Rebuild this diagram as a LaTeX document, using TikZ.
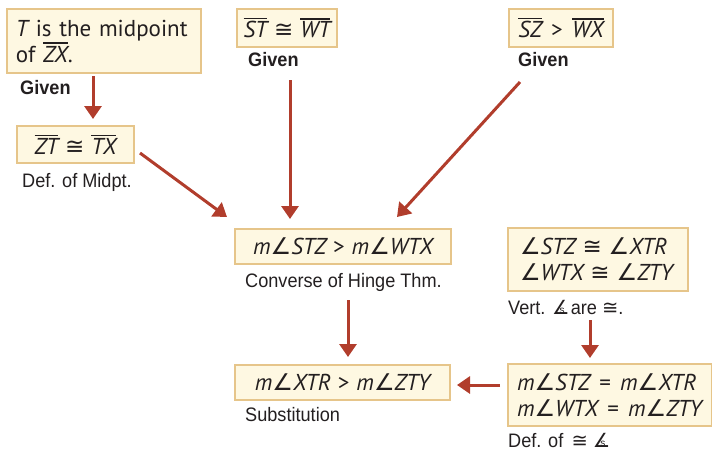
\documentclass[tikz,border=0pt]{standalone}
\usepackage{fontspec}
\setmainfont{Liberation Sans}
\newfontfamily\labfont{Liberation Sans}[FakeStretch=0.93]
\newfontfamily\smallfont{Liberation Sans}
\newfontfamily\boxfont{PT Sans}
\newfontfamily\symfont{DejaVu Sans}
\usetikzlibrary{arrows.meta}
\definecolor{boxfill}{HTML}{FEF8E2}
\definecolor{boxline}{HTML}{E6C58A}
\definecolor{arrowc}{HTML}{B13D2C}
\definecolor{txt}{HTML}{231F20}
\newcommand\vv[1]{{\itshape #1}}
\newcommand\seg[1]{\leavevmode\vbox{\hrule height 1.3pt\kern2.2pt\hbox{\itshape #1}}}
\newcommand\rl{\hspace{0.3em}}
\newcommand\cg{{\symfont ≅}}
\newcommand\ang{{\symfont\itshape ∠}}
\newcommand\angs{\rlap{\symfont ∠}\kern0.38em\raisebox{0.5pt}{\smallfont\fontsize{10}{10}\selectfont s}\kern0.32em}
\tikzset{
  pbox/.style={draw=boxline, fill=boxfill, line width=2pt, anchor=north west,
    font=\boxfont\fontsize{23}{26}\selectfont, text=txt, inner xsep=10pt, align=left},
  plabel/.style={anchor=west, font=\labfont\fontsize{19.5}{22}\selectfont, text=txt, inner sep=0pt},
  glabel/.style={plabel, font=\labfont\bfseries\fontsize{19.5}{22}\selectfont},
  parrow/.style={draw=arrowc, line width=3pt, -{Triangle[length=13pt,width=17pt]}}
}
\begin{document}
\begin{tikzpicture}[x=1pt,y=-1pt]
\useasboundingbox (0,0) rectangle (712,451);
% boxes
\node[pbox, minimum width=194pt, minimum height=64pt, text width=176pt, inner xsep=9pt] (b1) at (6,8)
  {\vv{T} is the midpoint\\of \seg{ZX}.};
\node[glabel] (g1) at (20,88) {Given};
\node[pbox, minimum width=117pt, minimum height=37pt, inner xsep=3pt] (b2) at (16,125)
  {\seg{ZT}\rl\cg\rl\seg{TX}};
\node[plabel] (l2) at (22,182) {Def. of Midpt.};
\node[pbox, minimum width=100pt, minimum height=38pt, inner xsep=3pt] (b3) at (236,8)
  {\seg{ST}\rl\cg\rl\seg{WT}};
\node[glabel] (g3) at (248,60) {Given};
\node[pbox, minimum width=104pt, minimum height=38pt, inner xsep=3pt] (b4) at (508,8)
  {\seg{SZ}\hspace{0.4em}>\hspace{0.4em}\seg{WX}};
\node[glabel] (g4) at (518,60) {Given};
\node[pbox, minimum width=216pt, minimum height=35pt, inner xsep=6pt] (b5) at (234,228)
  {\vv{m}\ang\vv{STZ}\rl>\rl\vv{m}\ang\vv{WTX}};
\node[plabel] (l5) at (245,282) {Converse of Hinge Thm.};
\node[pbox, minimum width=215pt, minimum height=35pt, inner xsep=6pt] (b6) at (234,364)
  {\vv{m}\ang\vv{XTR}\rl>\rl\vv{m}\ang\vv{ZTY}};
\node[plabel] (l6) at (245,415) {Substitution};
\node[pbox, minimum width=180pt, minimum height=63pt, text width=156pt, inner xsep=12pt] (b7) at (507,227)
  {\ang\vv{STZ}\rl\cg\rl\ang\vv{XTR}\\\ang\vv{WTX}\rl\cg\rl\ang\vv{ZTY}};
\node[plabel] (l7) at (508,307) {Vert. \angs are \cg.};
\node[pbox, minimum width=204pt, minimum height=62pt, text width=186pt, inner xsep=9pt] (b8) at (507,363)
  {\vv{m}\ang\vv{STZ}\hspace{0.4em}=\hspace{0.4em}\vv{m}\ang\vv{XTR}\\\vv{m}\ang\vv{WTX}\hspace{0.4em}=\hspace{0.4em}\vv{m}\ang\vv{ZTY}};
\node[plabel] (l8) at (508,440) {Def. of \,\cg\ \angs};
% arrow ends
\coordinate (a1s) at (93,76);  \coordinate (a1e) at (93,119);
\coordinate (a2s) at (140,153); \coordinate (a2e) at (227,217);
\coordinate (a3s) at (290,80); \coordinate (a3e) at (290,219);
\coordinate (a4s) at (520,82); \coordinate (a4e) at (397,217);
\coordinate (a5s) at (348,300); \coordinate (a5e) at (348,357);
\coordinate (a7s) at (590,320); \coordinate (a7e) at (590,358);
\coordinate (a8s) at (500,385); \coordinate (a8e) at (457,385);
\draw[parrow] (a1s) -- (a1e);
\draw[parrow] (a2s) -- (a2e);
\draw[parrow] (a3s) -- (a3e);
\draw[parrow] (a4s) -- (a4e);
\draw[parrow] (a5s) -- (a5e);
\draw[parrow] (a7s) -- (a7e);
\draw[parrow] (a8s) -- (a8e);
\end{tikzpicture}
\end{document}
